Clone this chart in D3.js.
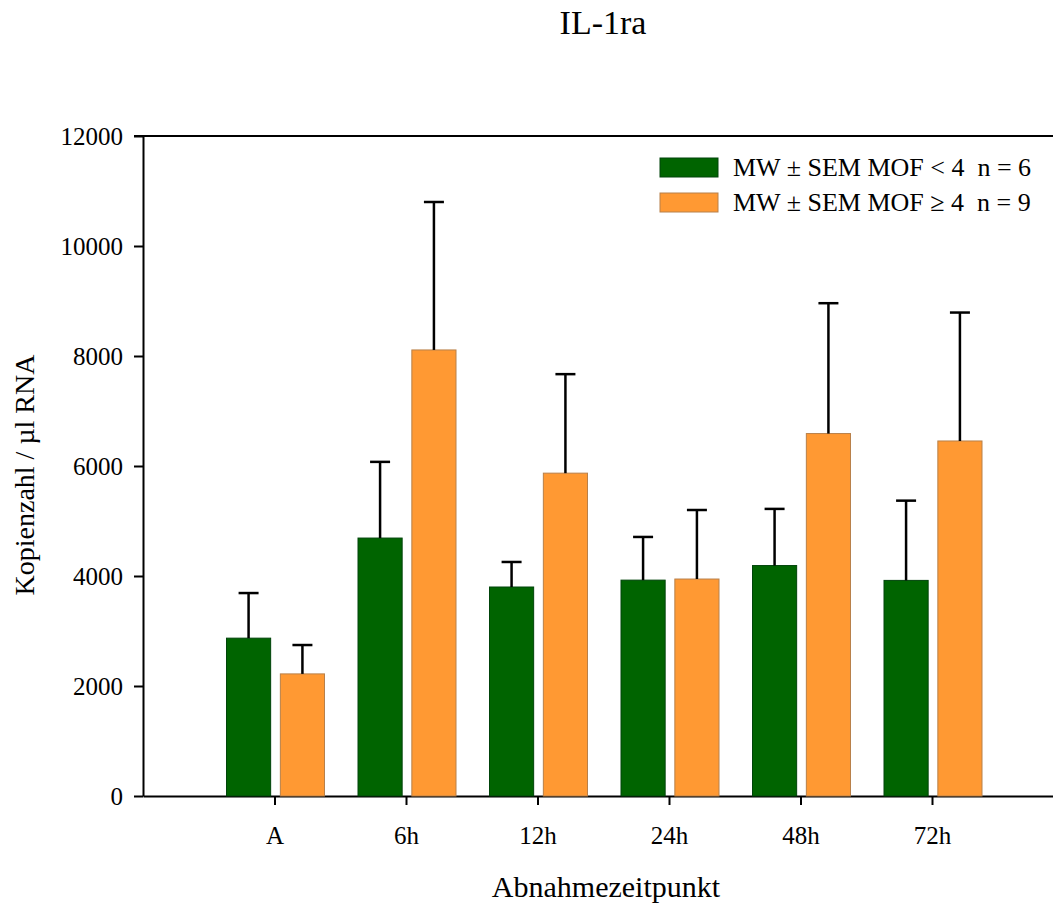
<!DOCTYPE html>
<html>
<head>
<meta charset="utf-8">
<script src="https://cdn.jsdelivr.net/npm/d3@7"></script>
<style>
  html, body { margin: 0; padding: 0; background: #fff; }
  svg { display: block; }
  svg text { font-family: "Liberation Serif", "Times New Roman", serif; fill: #000; }
</style>
</head>
<body>
<svg id="chart" width="1053" height="907"></svg>
<script>
// data
const categories = ['A', '6h', '12h', '24h', '48h', '72h'];
const seriesNames = ['MW \u00B1 SEM MOF < 4  n = 6', 'MW \u00B1 SEM MOF \u2265 4  n = 9'];
const meanLow  = [2870, 4690, 3800, 3925, 4190, 3920];
const semLow   = [820, 1385, 455, 785, 1030, 1450];
const meanHigh = [2220, 8110, 5870, 3945, 6590, 6455];
const semHigh  = [525, 2690, 1800, 1255, 2370, 2335];
const yTicks = [0, 2000, 4000, 6000, 8000, 10000, 12000];

const colors = ['#006400', '#ff9933'];
const strokes = ['#00440a', '#b8804a'];

const svg = d3.select('#chart');

const plotLeft = 143, plotTop = 136, plotBottom = 796;
const step = 131.5;

// categories sit at 1..6, axis starts at 0
const x = d3.scaleLinear().domain([0, 7]).range([plotLeft, plotLeft + 7 * step]);
const y = d3.scaleLinear().domain([0, 12000]).range([plotBottom, plotTop]);
const sub = d3.scaleBand().domain([0, 1]).range([-48, 50]).paddingInner(0.18);

// top frame line
svg.append('line')
  .attr('x1', plotLeft - 9).attr('x2', 1053)
  .attr('y1', y(12000)).attr('y2', y(12000))
  .attr('stroke', '#000').attr('stroke-width', 2);

// y axis
const yAxis = svg.append('g')
  .attr('transform', `translate(${plotLeft},0)`)
  .call(d3.axisLeft(y).tickValues(yTicks).tickSize(9).tickPadding(11).tickSizeOuter(0).tickFormat(d3.format('d')));
yAxis.select('.domain').attr('stroke-width', 2);
yAxis.selectAll('.tick line').attr('stroke-width', 2);
yAxis.selectAll('text').attr('font-size', 25);

// x axis
const xAxis = svg.append('g')
  .attr('transform', `translate(0,${plotBottom})`)
  .call(d3.axisBottom(x).tickValues(d3.range(1, categories.length + 1))
    .tickFormat(d => categories[d - 1]).tickSize(9).tickPadding(21).tickSizeOuter(0));
xAxis.select('.domain').attr('stroke-width', 2);
xAxis.selectAll('.tick line').attr('stroke-width', 2);
xAxis.selectAll('text').attr('font-size', 25);

// bars
const rows = categories.map((c, i) => [
  { i, s: 0, m: meanLow[i], e: semLow[i] },
  { i, s: 1, m: meanHigh[i], e: semHigh[i] },
]).flat();

svg.append('g').selectAll('rect')
  .data(rows)
  .join('rect')
  .attr('x', d => x(d.i + 1) + sub(d.s))
  .attr('width', sub.bandwidth())
  .attr('y', d => y(d.m))
  .attr('height', d => y(0) - y(d.m))
  .attr('fill', d => colors[d.s])
  .attr('stroke', d => strokes[d.s])
  .attr('stroke-width', 1);

// error bars (upper only)
const err = svg.append('g').attr('stroke', '#000').attr('stroke-width', 2.5);
rows.forEach(d => {
  const cx = x(d.i + 1) + sub(d.s) + sub.bandwidth() / 2;
  err.append('line').attr('x1', cx).attr('x2', cx).attr('y1', y(d.m)).attr('y2', y(d.m + d.e));
  err.append('line').attr('x1', cx - 10).attr('x2', cx + 10).attr('y1', y(d.m + d.e)).attr('y2', y(d.m + d.e));
});

// legend
const legend = svg.append('g').attr('transform', 'translate(660,158)');
seriesNames.forEach((name, k) => {
  const g = legend.append('g').attr('transform', `translate(0,${k * 35})`);
  g.append('rect').attr('width', 58).attr('height', 19)
    .attr('fill', colors[k]).attr('stroke', strokes[k]).attr('stroke-width', 1);
  g.append('text').attr('x', 73).attr('y', 18)
    .attr('font-size', 26)
    .style('white-space', 'pre')
    .text(name);
});

// title and axis labels
svg.append('text').attr('x', 603).attr('y', 34)
  .attr('text-anchor', 'middle').attr('font-size', 34).text('IL-1ra');

svg.append('text').attr('x', 606).attr('y', 897)
  .attr('text-anchor', 'middle').attr('font-size', 30).text('Abnahmezeitpunkt');

svg.append('text')
  .attr('transform', 'translate(34,475) rotate(-90)')
  .attr('text-anchor', 'middle').attr('font-size', 28).text('Kopienzahl / \u00B5l RNA');
</script>
</body>
</html>
